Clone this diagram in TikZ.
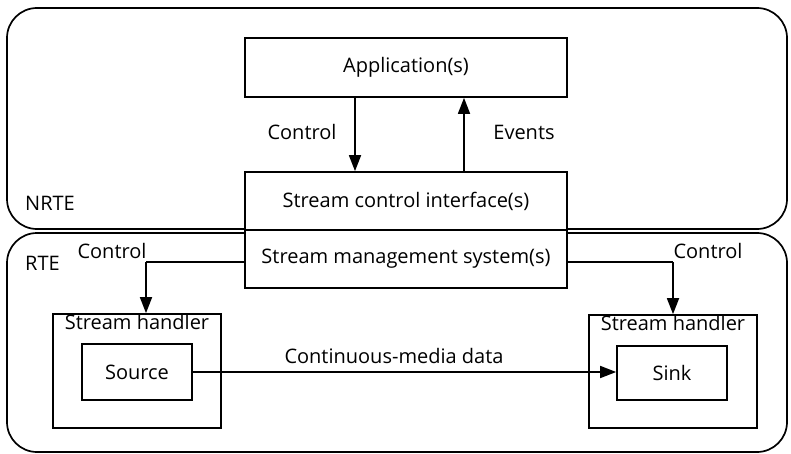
\documentclass[tikz,border=0pt]{standalone}
\usepackage{fontspec}
\setmainfont{Open Sans}
\usetikzlibrary{arrows.meta,positioning}
\begin{document}
\begin{tikzpicture}[x=1pt,y=-1pt,
  every node/.style={font=\fontsize{20}{23}\selectfont},
  region/.style={draw,line width=1.7pt,rounded corners=30pt},
  box/.style={draw,line width=1.7pt,fill=white,inner sep=0pt},
  wire/.style={line width=1.7pt},
  flow/.style={wire,-{Triangle[length=16pt,width=12pt]}},
  lbl/.style={inner sep=1pt}]
\useasboundingbox (0,0) rectangle (791,454);

% environments
\draw[region] (7,8) rectangle (787,229);
\draw[region] (7,233) rectangle (787,452);
\node[lbl,anchor=west] (nrte) at (24,203) {NRTE};
\node[lbl,anchor=west] (rte) at (24,263) {RTE};

% application and stream control stack
\node[box,minimum width=322pt,minimum height=59pt] (app) at (406,67.5) {Application(s)};
\node[box,minimum width=322pt,minimum height=58pt] (sci) at (406,201) {Stream control interface(s)};
\node[box,minimum width=322pt,minimum height=58pt] (sms) at (406,259) {Stream management system(s)};

\draw[flow] ([xshift=-51pt]app.south) -- ([xshift=-51pt]sci.north);
\draw[flow] ([xshift=58pt]sci.north) -- ([xshift=58pt]app.south);
\node[lbl] (lctl) at (302,132) {Control};
\node[lbl] (lev) at (524,132) {Events};

% stream handlers
\node[box,minimum width=168pt,minimum height=114pt] (lsh) at (137,371) {};
\node[lbl,below=0pt of lsh.north] (lsht) {Stream handler};
\node[box,minimum width=110pt,minimum height=56pt] (src) at (137,372) {Source};

\node[box,minimum width=168pt,minimum height=113pt] (rsh) at (673,371.5) {};
\node[lbl,below=0pt of rsh.north] (rsht) {Stream handler};
\node[box,minimum width=110pt,minimum height=54pt] (sink) at (672,373) {Sink};

% control paths from the management system
\coordinate (lturn) at (146,262);
\coordinate (rturn) at (673,262);
\draw[wire] (lturn -| sms.west) -- (lturn);
\draw[flow] (lturn) -- (lturn |- lsh.north);
\draw[wire] (rturn -| sms.east) -- (rturn);
\draw[flow] (rturn) -- (rturn |- rsh.north);
\node[lbl] (cl) at (112,251) {Control};
\node[lbl] (cr) at (708,251) {Control};

% media flow
\draw[flow] (src.east) -- (src.east -| sink.west);
\node[lbl] (cmd) at (394,356) {Continuous-media data};
\end{tikzpicture}
\end{document}
